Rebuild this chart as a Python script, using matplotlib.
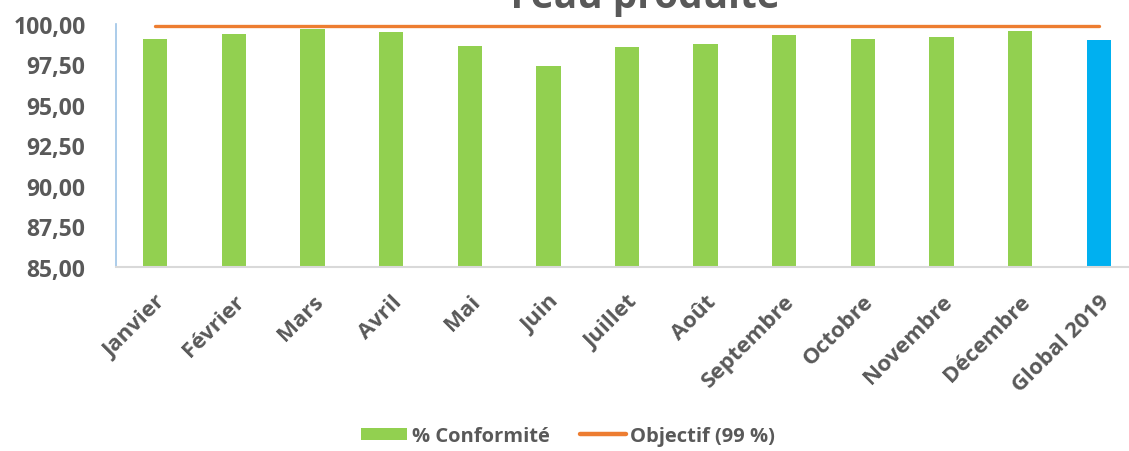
import matplotlib
matplotlib.use("Agg")
import matplotlib.pyplot as plt
from matplotlib.patches import Patch
from matplotlib.lines import Line2D

categories = ["Janvier", "Février", "Mars", "Avril", "Mai", "Juin", "Juillet",
              "Août", "Septembre", "Octobre", "Novembre", "Décembre", "Global 2019"]
conformite = [99.07, 99.38, 99.67, 99.49, 98.64, 97.41, 98.58, 98.77,
              99.34, 99.09, 99.22, 99.55, 99.01]
objectif = [99.9] * len(categories)
yticks = [85.0, 87.5, 90.0, 92.5, 95.0, 97.5, 100.0]
ytick_labels = ["85,00", "87,50", "90,00", "92,50", "95,00", "97,50", "100,00"]

GREEN = "#92D050"
BLUE = "#00B0F0"
ORANGE = "#ED7D31"
GRAY = "#595959"

plt.rcParams['font.family'] = ['Open Sans', 'DejaVu Sans']

W, H = 1129, 452
fig = plt.figure(figsize=(W / 100, H / 100), dpi=100)
ax = fig.add_axes([116 / W, 1 - 268 / H, (1138 - 116) / W, (268 - 25) / H])

x = list(range(len(categories)))
colors = [GREEN] * (len(categories) - 1) + [BLUE]
ax.bar(x, [v - 85 for v in conformite], bottom=85, width=0.31, color=colors,
       linewidth=0.0, zorder=2)
ax.plot(x, objectif, color=ORANGE, lw=2.4, solid_capstyle='round', zorder=3)

ax.set_xlim(-0.5, len(categories) - 0.5)
ax.set_ylim(85, 100)
ax.set_yticks(yticks)
ax.set_yticklabels(ytick_labels)
ax.set_xticks(x)
ax.set_xticklabels(categories, rotation=45, ha='right', va='top',
                   rotation_mode='anchor')
ax.tick_params(axis='y', length=0, colors=GRAY, labelsize=16.5, pad=22)
ax.tick_params(axis='x', length=0, colors=GRAY, labelsize=16, pad=17)
for lab in ax.get_xticklabels() + ax.get_yticklabels():
    lab.set_fontweight('bold')
    lab.set_color(GRAY)

for s in ['top', 'right']:
    ax.spines[s].set_visible(False)
ax.spines['left'].set_color('#9DC3E6')
ax.spines['left'].set_linewidth(1.2)
ax.spines['bottom'].set_color('#D9D9D9')
ax.spines['bottom'].set_linewidth(1.5)

fig.text(645 / W, 1 - 8 / H, "l'eau produite", ha='center', va='baseline',
         fontsize=28, fontweight='bold', color=GRAY)

handles = [Patch(facecolor=GREEN, edgecolor='none'),
           Line2D([0], [0], color=ORANGE, lw=3.2, solid_capstyle='round')]
leg = fig.legend(handles, ["% Conformité", "Objectif (99 %)"], loc='center',
                 bbox_to_anchor=(568 / W, 1 - 437 / H), ncol=2, frameon=False,
                 handlelength=2.3, handleheight=0.6, handletextpad=0.2,
                 columnspacing=1.5, prop={'weight': 'bold', 'size': 14.5})
for t in leg.get_texts():
    t.set_color(GRAY)

fig.savefig("out.png", dpi=100)
